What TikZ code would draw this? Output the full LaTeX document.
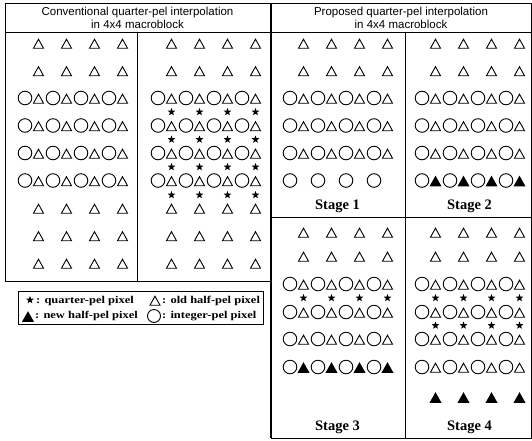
\documentclass[tikz,border=0pt]{standalone}
\usepackage{fontspec}
\setmainfont{Liberation Serif}
\setsansfont{Liberation Sans}
\newfontfamily\legfont[FakeStretch=1.2]{Liberation Serif}
\begin{document}
\begin{tikzpicture}[x=1pt,y=-1pt,
  frame/.style={line width=0.9pt},
  pxl/.style={line width=0.9pt},
  circ/.pic={\draw[pxl] (0,0) circle (6.8);},
  otri/.pic={\draw[pxl,line join=miter] (-5,5.2) -- (5,5.2) -- (0,-3.8) -- cycle;},
  ftri/.pic={\fill (-6,5.8) -- (6,5.8) -- (0,-4.8) -- cycle;},
  qstar/.pic={\fill (-90:4) -- (-54:1.7) -- (-18:4) -- (18:1.7) -- (54:4) -- (90:1.7) -- (126:4) -- (162:1.7) -- (198:4) -- (234:1.7) -- cycle;},
  head/.style={font=\sffamily\fontsize{11.5}{13.5}\selectfont,align=center,inner sep=0},
  stagelbl/.style={font=\bfseries\fontsize{14.5}{16}\selectfont,inner sep=0},
  leg/.style={font=\legfont\bfseries\fontsize{10.4}{12}\selectfont,inner sep=0,anchor=west}
]
\useasboundingbox (0,0) rectangle (532,440);
\newcommand\PXtri[2]{\foreach \i in {0,...,3} \pic at ({#1+13.5+28*\i},#2) {otri};}
\newcommand\PXftri[2]{\foreach \i in {0,...,3} \pic at ({#1+13.5+28*\i},#2) {ftri};}
\newcommand\PXstar[2]{\foreach \i in {0,...,3} \pic at ({#1+13.5+28*\i},#2) {qstar};}
\newcommand\PXcirc[2]{\foreach \i in {0,...,3} \pic at ({#1+28*\i},#2) {circ};}
\newcommand\PXct[2]{\PXcirc{#1}{#2}\PXtri{#1}{#2}}
\newcommand\PXcf[2]{\PXcirc{#1}{#2}\PXftri{#1}{#2}}

% ---- frames
\draw[frame] (5,3) rectangle (270,281);
\draw[frame] (5,32) -- (270,32);
\draw[frame] (137.5,32) -- (137.5,281);
\draw[frame] (271,3) rectangle (531,438);
\draw[line width=2.2pt] (271,3) -- (271,438);
\draw[frame] (271,32) -- (531,32);
\draw[frame] (405,32) -- (405,438);
\draw[frame] (271,217) -- (531,217);

% ---- headers
\node[head] (h1) at (137.5,18) {Conventional quarter-pel interpolation\\in 4x4 macroblock};
\node[head] (h2) at (401,18) {Proposed quarter-pel interpolation\\in 4x4 macroblock};

% ---- conventional, panel 1
\PXtri{25}{43}
\PXtri{25}{70.5}
\PXct{25}{98}
\PXct{25}{125.5}
\PXct{25}{153}
\PXct{25}{180.5}
\PXtri{25}{208}
\PXtri{25}{235.5}
\PXtri{25}{263}

% ---- conventional, panel 2
\PXtri{158}{43}
\PXtri{158}{70.5}
\PXct{158}{98}
\PXstar{158}{112}
\PXct{158}{125.5}
\PXstar{158}{139.5}
\PXct{158}{153}
\PXstar{158}{167}
\PXct{158}{180.5}
\PXstar{158}{195}
\PXtri{158}{208}
\PXtri{158}{235.5}
\PXtri{158}{263}

% ---- stage 1
\PXtri{290}{43}
\PXtri{290}{70.5}
\PXct{290}{98}
\PXct{290}{125.5}
\PXct{290}{153}
\PXcirc{290}{180.5}
\node[stagelbl] (s1) at (337.5,206) {Stage 1};

% ---- stage 2
\PXtri{422}{43}
\PXtri{422}{70.5}
\PXct{422}{98}
\PXct{422}{125.5}
\PXct{422}{153}
\PXcf{422}{180.5}
\node[stagelbl] (s2) at (469.5,206) {Stage 2};

% ---- stage 3
\PXtri{290}{232}
\PXtri{290}{256}
\PXct{290}{284}
\PXstar{290}{298}
\PXct{290}{312}
\PXct{290}{339}
\PXcf{290}{367}
\node[stagelbl] (s3) at (337.5,427) {Stage 3};

% ---- stage 4
\PXtri{422}{232}
\PXtri{422}{256}
\PXct{422}{284}
\PXstar{422}{298}
\PXct{422}{312}
\PXstar{422}{325.5}
\PXct{422}{339}
\PXct{422}{367}
\PXftri{422}{397}
\node[stagelbl] (s4) at (469.5,427) {Stage 4};

% ---- legend
\draw[frame] (18,291) rectangle (263,324);
\pic at (30,300) {qstar};
\node[leg] (l1) at (36,300.5) {: quarter-pel pixel};
\pic at (155,300) {otri};
\node[leg] (l2) at (162,300.5) {: old half-pel pixel};
\pic at (28,316) {ftri};
\node[leg] (l3) at (35,316) {: new half-pel pixel};
\draw[pxl] (154,316) circle (6.5);
\node[leg] (l4) at (162,316) {: integer-pel pixel};
\end{tikzpicture}
\end{document}
